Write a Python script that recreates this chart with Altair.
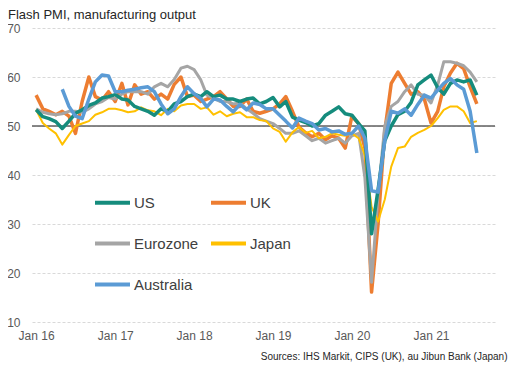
import altair as alt
import pandas as pd

months = pd.date_range("2016-01-01", "2021-08-01", freq="MS").strftime("%Y-%m-%d").tolist()

us = [53.3, 51.9, 51.5, 50.9, 49.5, 51.0, 52.6, 53.3, 54.2, 54.7, 55.7, 56.0,
      56.4, 55.5, 55.3, 54.0, 53.5, 53.0, 52.2, 53.5, 53.0, 54.5, 55.0, 56.0,
      56.5, 56.0, 57.0, 56.0, 56.3, 55.5, 55.5, 55.0, 55.5, 55.7, 54.5, 55.0,
      55.8, 53.9, 55.0, 51.8, 51.2, 50.7, 50.0, 50.5, 52.2, 53.0, 53.9, 52.5,
      52.2, 50.5, 49.0, 28.0, 37.0, 47.0, 50.0, 52.3, 53.0, 54.8, 58.4, 59.4,
      60.4, 57.8, 56.5, 58.7, 59.4, 59.0, 59.4, 56.3]

uk = [56.3, 53.5, 53.0, 52.3, 53.0, 52.0, 48.5, 55.0, 60.0, 56.0, 55.3, 57.0,
      55.0, 58.7, 54.3, 58.4, 56.5, 57.0, 55.5, 56.5, 55.5, 58.5, 60.0, 56.0,
      56.3, 55.0, 55.5, 56.0, 57.0, 55.5, 54.0, 54.0, 55.5, 53.0, 52.6, 53.0,
      53.5, 54.5, 56.0, 53.0, 49.8, 48.6, 47.8, 48.5, 47.2, 48.0, 47.5, 45.5,
      52.0, 50.5, 45.5, 16.1, 30.0, 49.0, 58.7, 61.0, 58.7, 56.5, 57.0, 55.5,
      50.6, 53.0, 58.0, 60.8, 62.8, 61.7, 58.0, 54.5]

eurozone = [53.5, 52.8, 52.5, 52.3, 52.5, 53.0, 53.0, 52.8, 53.5, 54.5, 55.0, 55.8,
            55.5, 56.5, 57.0, 57.0, 57.0, 56.5, 58.0, 58.7, 58.0, 59.5, 61.8, 62.2,
            61.5, 59.4, 56.3, 55.7, 55.0, 55.0, 54.5, 54.7, 53.5, 52.6, 51.5, 51.0,
            50.5, 49.5, 48.5, 48.5, 49.0, 48.0, 47.0, 47.5, 46.5, 47.0, 47.5, 46.5,
            48.0, 48.5, 39.5, 18.1, 36.0, 50.0, 54.0, 55.0, 57.0, 58.4, 56.5, 56.3,
            54.7, 58.4, 63.1, 63.1, 62.8, 62.3, 61.0, 59.0]

japan = [53.3, 50.6, 49.5, 48.5, 46.2, 48.2, 50.0, 50.5, 51.0, 52.3, 52.8, 53.5,
         53.5, 53.2, 52.8, 53.0, 53.8, 53.2, 53.0, 52.2, 53.5, 53.0, 54.2, 54.5,
         54.5, 53.5, 53.8, 52.3, 53.0, 52.0, 52.5, 52.8, 51.8, 51.8, 51.2, 51.0,
         49.5, 48.8, 46.8, 48.7, 49.8, 48.6, 49.0, 47.5, 47.8, 48.5, 48.2, 48.0,
         48.5, 47.5, 44.0, 33.5, 30.5, 35.0, 41.7, 45.5, 45.8, 47.8, 48.6, 49.2,
         50.0, 51.6, 53.3, 54.0, 54.0, 53.0, 50.6, 51.0]

australia = [None, None, None, None, 57.5, 54.0, 52.0, 51.5, 55.5, 59.0, 60.4, 60.2,
             57.0, 57.0, 57.3, 57.5, 57.8, 58.0, 57.0, 54.5, 52.5, 53.5, 56.0, 58.0,
             56.6, 55.6, 53.9, 55.5, 55.3, 54.0, 52.9, 54.4, 53.3, 54.7, 54.4, 53.5,
             53.5, 52.2, 51.0, 49.6, 51.6, 51.0, 50.5, 49.2, 49.5, 48.8, 49.0, 48.3,
             48.5, 50.0, 47.5, 36.8, 36.5, 47.0, 53.0, 52.6, 53.5, 52.2, 54.4, 56.3,
             55.7, 57.3, 58.7, 59.7, 58.4, 57.5, 53.0, 44.5]

countries = ["US", "UK", "Eurozone", "Japan", "Australia"]
colors = ["#158c7d", "#ed7d31", "#a5a5a5", "#ffc000", "#5b9bd5"]
line_widths = {"US": 3.5, "UK": 3.5, "Eurozone": 3, "Japan": 2, "Australia": 3.5}
draw_order = ["UK", "Eurozone", "Japan", "US", "Australia"]

series = dict(zip(countries, [us, uk, eurozone, japan, australia]))
rows = []
for name, vals in series.items():
    for m, v in zip(months, vals):
        if v is not None:
            rows.append({"month": m, "country": name, "value": v})
df = pd.DataFrame(rows)

FONT = "Liberation Sans, Arial, sans-serif"

x_enc = alt.X(
    "month:T",
    scale=alt.Scale(
        type="utc",
        domain=[alt.DateTime(year=2015, month=12, date=13, utc=True),
                alt.DateTime(year=2021, month=10, date=24, utc=True)],
    ),
    axis=alt.Axis(
        values=[alt.DateTime(year=y, month=1, date=1, utc=True) for y in range(2016, 2022)],
        format="%b %y",
        grid=False, domain=False, ticks=False, tickSize=0,
        labelPadding=8, labelFontSize=12, labelColor="#595959", labelFlush=False,
        title="Sources: IHS Markit, CIPS (UK), au Jibun Bank (Japan)",
        titleFontSize=10, titleFontWeight="normal", titleColor="#262626",
        titleAlign="right", titleX=475, titleY=34, titleBaseline="middle",
    ),
)
y_enc = alt.Y(
    "value:Q",
    scale=alt.Scale(domain=[10, 70], nice=False, zero=False),
    axis=alt.Axis(
        values=list(range(10, 71, 10)), grid=True, gridDash=[3, 2], gridColor="#d9d9d9",
        domain=False, ticks=False, tickSize=0, labelPadding=12, labelFontSize=12,
        labelColor="#595959", title=None,
    ),
)
color_enc = alt.Color(
    "country:N",
    scale=alt.Scale(domain=countries, range=colors),
    legend=alt.Legend(
        orient="none", legendX=61, legendY=155, columns=2, direction="horizontal",
        title=None, symbolType="stroke", symbolSize=1225, symbolStrokeWidth=4,
        labelFontSize=15, labelColor="#404040", labelOffset=2,
        columnPadding=4, rowPadding=13, gridAlign="each",
    ),
)

rule50 = alt.Chart(pd.DataFrame({"v": [50]})).mark_rule(color="#606060", strokeWidth=1.5).encode(
    y=alt.Y("v:Q", scale=alt.Scale(domain=[10, 70], nice=False, zero=False))
)

layers = [rule50]
for c in draw_order:
    layers.append(
        alt.Chart(df).transform_filter(alt.datum.country == c)
        .mark_line(strokeWidth=line_widths[c], strokeJoin="round")
        .encode(x=x_enc, y=y_enc, color=color_enc)
    )

chart = alt.layer(*layers).properties(
    width=463, height=294,
    autosize=alt.AutoSizeParams(type="none"),
    padding={"left": 24, "top": 20, "right": 14, "bottom": 40},
    title=alt.TitleParams(
        "Flash PMI, manufacturing output", anchor="start", frame="group", dx=-24,
        dy=7, offset=7, fontSize=13, fontWeight="normal", color="#262626", font=FONT,
    ),
).configure(font=FONT).configure_view(stroke=None)

chart.save("out.html", embed_options={"renderer": "svg", "actions": False})
